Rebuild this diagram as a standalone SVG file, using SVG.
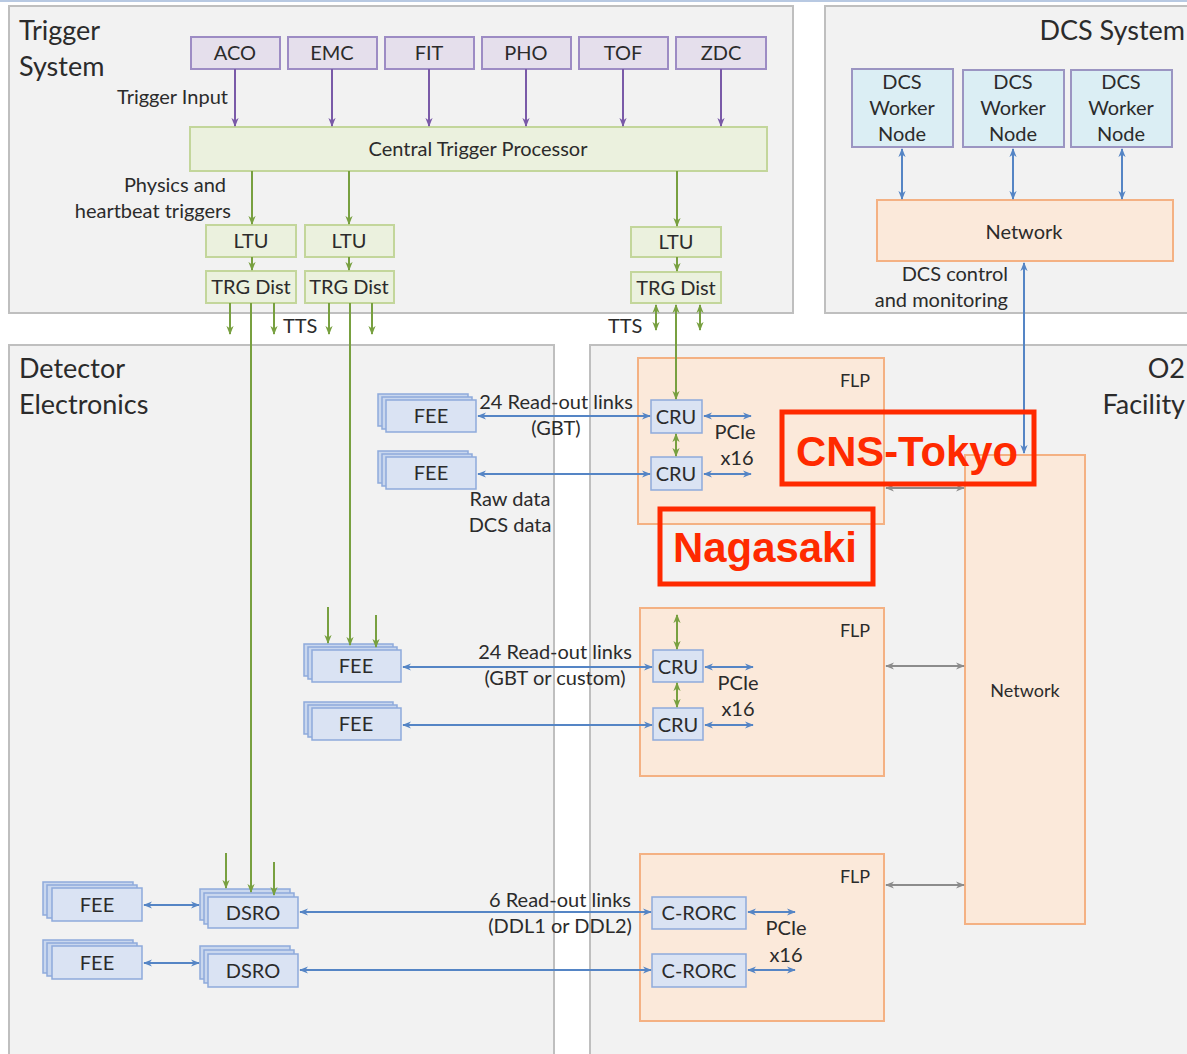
<svg xmlns="http://www.w3.org/2000/svg" width="1187" height="1054" viewBox="0 0 1187 1054">
  <style>
    text { font-family: Lato, "Open Sans", "Liberation Sans", sans-serif; fill: #2b2b2b; }
    .t { font-size: 20px; }
    .tc { font-size: 20px; text-anchor: middle; }
    .te { font-size: 20px; text-anchor: end; }
    .sm { font-size: 18px; text-anchor: middle; }
    .title { font-size: 27px; }
    .panel { fill: #f2f2f2; stroke: #bfbfbf; stroke-width: 2; }
    .trgin { fill: #e5dfec; stroke: #9d8cc4; stroke-width: 2; }
    .trg { fill: #ebf1de; stroke: #c3d69b; stroke-width: 2; }
    .dcs { fill: #dbeef4; stroke: #9b95c2; stroke-width: 2; }
    .net { fill: #fbe9da; stroke: #f4b183; stroke-width: 2; }
    .blue { fill: #dae3f3; stroke: #8eaadb; stroke-width: 1.5; }
    .stk { fill: #c9d7ee; stroke: #8eaadb; stroke-width: 1.5; }
    .mark { fill: none; stroke: #ff2a00; stroke-width: 5; }
    .red { font-family: "Liberation Sans", Arial, sans-serif; font-size: 42px; font-weight: bold; fill: #ff2a00; }
    .cp { stroke: #7a5aa8; stroke-width: 2; fill: none; }
    .cg { stroke: #78a040; stroke-width: 2; fill: none; }
    .cb { stroke: #5585c5; stroke-width: 2; fill: none; }
    .cy { stroke: #8c8c8c; stroke-width: 2; fill: none; }
  </style>
  <defs>
    <marker id="ap" viewBox="0 0 10 10" refX="9" refY="5" markerWidth="9" markerHeight="9" markerUnits="userSpaceOnUse" orient="auto-start-reverse"><path d="M0,1 L10,5 L0,9 L3,5 Z" fill="#7a5aa8"/></marker>
    <marker id="ag" viewBox="0 0 10 10" refX="9" refY="5" markerWidth="9" markerHeight="9" markerUnits="userSpaceOnUse" orient="auto-start-reverse"><path d="M0,1 L10,5 L0,9 L3,5 Z" fill="#78a040"/></marker>
    <marker id="ab" viewBox="0 0 10 10" refX="9" refY="5" markerWidth="9" markerHeight="9" markerUnits="userSpaceOnUse" orient="auto-start-reverse"><path d="M0,1 L10,5 L0,9 L3,5 Z" fill="#5585c5"/></marker>
    <marker id="ay" viewBox="0 0 10 10" refX="9" refY="5" markerWidth="9" markerHeight="9" markerUnits="userSpaceOnUse" orient="auto-start-reverse"><path d="M0,1 L10,5 L0,9 L3,5 Z" fill="#8c8c8c"/></marker>
  </defs>

  <rect width="1187" height="1054" fill="#ffffff"/>
  <rect x="0" y="0" width="1187" height="2" fill="#b8c9e2"/>

  <!-- panels -->
  <g id="trigger-system">
    <rect class="panel" x="9" y="6" width="784" height="307"/>
    <text class="title" x="19" y="40">Trigger</text>
    <text class="title" x="19" y="76">System</text>
  </g>
  <g id="dcs-system">
    <rect class="panel" x="825" y="6" width="380" height="307"/>
    <text class="title" x="1185" y="40" text-anchor="end">DCS System</text>
  </g>
  <g id="detector-electronics">
    <rect class="panel" x="9" y="345" width="545" height="720"/>
    <text class="title" x="19" y="378">Detector</text>
    <text class="title" x="19" y="414">Electronics</text>
  </g>
  <g id="o2-facility">
    <rect class="panel" x="590" y="345" width="615" height="720"/>
    <text class="title" x="1185" y="378" text-anchor="end">O2</text>
    <text class="title" x="1185" y="414" text-anchor="end">Facility</text>
  </g>

  <!-- trigger inputs -->
  <g id="aco"><rect class="trgin" x="191" y="37" width="89" height="32"/><text class="tc" x="235" y="60">ACO</text></g>
  <g id="emc"><rect class="trgin" x="288" y="37" width="89" height="32"/><text class="tc" x="332" y="60">EMC</text></g>
  <g id="fit"><rect class="trgin" x="385" y="37" width="89" height="32"/><text class="tc" x="429" y="60">FIT</text></g>
  <g id="pho"><rect class="trgin" x="482" y="37" width="89" height="32"/><text class="tc" x="526" y="60">PHO</text></g>
  <g id="tof"><rect class="trgin" x="579" y="37" width="89" height="32"/><text class="tc" x="623" y="60">TOF</text></g>
  <g id="zdc"><rect class="trgin" x="676" y="37" width="90" height="32"/><text class="tc" x="721" y="60">ZDC</text></g>

  <g id="ctp"><rect class="trg" x="190" y="127" width="577" height="44"/><text class="tc" x="478" y="156">Central Trigger Processor</text></g>

  <g id="ltu-1"><rect class="trg" x="206" y="225" width="90" height="32"/><text class="tc" x="251" y="248">LTU</text></g>
  <g id="ltu-2"><rect class="trg" x="305" y="225" width="89" height="32"/><text class="tc" x="349" y="248">LTU</text></g>
  <g id="ltu-3"><rect class="trg" x="631" y="227" width="90" height="30"/><text class="tc" x="676" y="249">LTU</text></g>
  <g id="trg-dist-1"><rect class="trg" x="206" y="271" width="90" height="32"/><text class="tc" x="251" y="294">TRG Dist</text></g>
  <g id="trg-dist-2"><rect class="trg" x="305" y="271" width="89" height="32"/><text class="tc" x="349" y="294">TRG Dist</text></g>
  <g id="trg-dist-3"><rect class="trg" x="631" y="272" width="90" height="31"/><text class="tc" x="676" y="295">TRG Dist</text></g>

  <!-- DCS system nodes -->
  <g id="dcs-worker-1"><rect class="dcs" x="852" y="69" width="101" height="78"/><text class="tc" x="902" y="89">DCS</text><text class="tc" x="902" y="115">Worker</text><text class="tc" x="902" y="141">Node</text></g>
  <g id="dcs-worker-2"><rect class="dcs" x="963" y="70" width="101" height="77"/><text class="tc" x="1013" y="89">DCS</text><text class="tc" x="1013" y="115">Worker</text><text class="tc" x="1013" y="141">Node</text></g>
  <g id="dcs-worker-3"><rect class="dcs" x="1071" y="70" width="101" height="77"/><text class="tc" x="1121" y="89">DCS</text><text class="tc" x="1121" y="115">Worker</text><text class="tc" x="1121" y="141">Node</text></g>
  <g id="dcs-network"><rect class="net" x="877" y="200" width="296" height="61"/><text class="tc" x="1024" y="239">Network</text></g>

  <!-- O2 facility -->
  <g id="flp-1"><rect class="net" x="638" y="358" width="246" height="166"/><text class="sm" x="855" y="387">FLP</text></g>
  <g id="flp-2"><rect class="net" x="640" y="608" width="244" height="168"/><text class="sm" x="855" y="637">FLP</text></g>
  <g id="flp-3"><rect class="net" x="640" y="854" width="244" height="167"/><text class="sm" x="855" y="883">FLP</text></g>
  <g id="o2-network"><rect class="net" x="965" y="455" width="120" height="469"/><text class="sm" x="1025" y="697">Network</text></g>

  <g id="cru-1"><rect class="blue" x="651" y="400" width="51" height="33"/><text class="tc" x="676" y="424">CRU</text></g>
  <g id="cru-2"><rect class="blue" x="651" y="457" width="51" height="33"/><text class="tc" x="676" y="481">CRU</text></g>
  <g id="cru-3"><rect class="blue" x="653" y="650" width="50" height="32"/><text class="tc" x="678" y="674">CRU</text></g>
  <g id="cru-4"><rect class="blue" x="653" y="708" width="50" height="32"/><text class="tc" x="678" y="732">CRU</text></g>
  <g id="c-rorc-1"><rect class="blue" x="652" y="897" width="94" height="32"/><text class="tc" x="699" y="920">C-RORC</text></g>
  <g id="c-rorc-2"><rect class="blue" x="652" y="954" width="94" height="33"/><text class="tc" x="699" y="978">C-RORC</text></g>

  <!-- front-end electronics, drawn as stacks of three cards -->
  <g id="fee-1"><rect class="stk" x="378" y="394" width="90" height="32"/><rect class="stk" x="382" y="397" width="90" height="32"/><rect class="blue" x="386" y="400" width="90" height="32"/><text class="tc" x="431" y="423">FEE</text></g>
  <g id="fee-2"><rect class="stk" x="378" y="451" width="90" height="32"/><rect class="stk" x="382" y="454" width="90" height="32"/><rect class="blue" x="386" y="457" width="90" height="32"/><text class="tc" x="431" y="480">FEE</text></g>
  <g id="fee-3"><rect class="stk" x="304" y="644" width="89" height="32"/><rect class="stk" x="308" y="647" width="89" height="32"/><rect class="blue" x="312" y="650" width="89" height="32"/><text class="tc" x="356" y="673">FEE</text></g>
  <g id="fee-4"><rect class="stk" x="304" y="702" width="89" height="32"/><rect class="stk" x="308" y="705" width="89" height="32"/><rect class="blue" x="312" y="708" width="89" height="32"/><text class="tc" x="356" y="731">FEE</text></g>
  <g id="fee-5"><rect class="stk" x="43" y="882" width="90" height="33"/><rect class="stk" x="47" y="885" width="90" height="33"/><rect class="blue" x="52" y="888" width="90" height="33"/><text class="tc" x="97" y="912">FEE</text></g>
  <g id="fee-6"><rect class="stk" x="43" y="940" width="90" height="33"/><rect class="stk" x="47" y="943" width="90" height="33"/><rect class="blue" x="52" y="946" width="90" height="33"/><text class="tc" x="97" y="970">FEE</text></g>
  <g id="dsro-1"><rect class="stk" x="200" y="889" width="90" height="31"/><rect class="stk" x="204" y="893" width="90" height="31"/><rect class="blue" x="208" y="897" width="90" height="31"/><text class="tc" x="253" y="920">DSRO</text></g>
  <g id="dsro-2"><rect class="stk" x="200" y="946" width="90" height="33"/><rect class="stk" x="204" y="950" width="90" height="33"/><rect class="blue" x="208" y="954" width="90" height="33"/><text class="tc" x="253" y="978">DSRO</text></g>

  <!-- connectors -->
  <g id="connectors">
    <!-- trigger inputs to CTP -->
    <line class="cp" x1="235" y1="69" x2="235" y2="126" marker-end="url(#ap)"/>
    <line class="cp" x1="332" y1="69" x2="332" y2="126" marker-end="url(#ap)"/>
    <line class="cp" x1="429" y1="69" x2="429" y2="126" marker-end="url(#ap)"/>
    <line class="cp" x1="526" y1="69" x2="526" y2="126" marker-end="url(#ap)"/>
    <line class="cp" x1="623" y1="69" x2="623" y2="126" marker-end="url(#ap)"/>
    <line class="cp" x1="721" y1="69" x2="721" y2="126" marker-end="url(#ap)"/>

    <!-- CTP to LTUs and TRG distribution -->
    <line class="cg" x1="252" y1="171" x2="252" y2="224" marker-end="url(#ag)"/>
    <line class="cg" x1="349" y1="171" x2="349" y2="224" marker-end="url(#ag)"/>
    <line class="cg" x1="677" y1="171" x2="677" y2="226" marker-end="url(#ag)"/>
    <line class="cg" x1="252" y1="257" x2="252" y2="270" marker-end="url(#ag)"/>
    <line class="cg" x1="349" y1="257" x2="349" y2="270" marker-end="url(#ag)"/>
    <line class="cg" x1="677" y1="257" x2="677" y2="271" marker-end="url(#ag)"/>

    <line class="cg" x1="230" y1="303" x2="230" y2="334" marker-end="url(#ag)"/>
    <line class="cg" x1="274" y1="303" x2="274" y2="334" marker-end="url(#ag)"/>
    <line class="cg" x1="329" y1="303" x2="329" y2="334" marker-end="url(#ag)"/>
    <line class="cg" x1="372" y1="303" x2="372" y2="334" marker-end="url(#ag)"/>
    <line class="cg" x1="656" y1="305" x2="656" y2="330" marker-start="url(#ag)" marker-end="url(#ag)"/>
    <line class="cg" x1="700" y1="305" x2="700" y2="330" marker-start="url(#ag)" marker-end="url(#ag)"/>

    <line class="cg" x1="251" y1="303" x2="251" y2="892" marker-end="url(#ag)"/>
    <line class="cg" x1="350" y1="303" x2="350" y2="645" marker-end="url(#ag)"/>
    <line class="cg" x1="328" y1="607" x2="328" y2="643" marker-end="url(#ag)"/>
    <line class="cg" x1="376" y1="615" x2="376" y2="647" marker-end="url(#ag)"/>
    <line class="cg" x1="226" y1="853" x2="226" y2="888" marker-end="url(#ag)"/>
    <line class="cg" x1="274" y1="862" x2="274" y2="895" marker-end="url(#ag)"/>

    <line class="cg" x1="676" y1="305" x2="676" y2="399" marker-start="url(#ag)" marker-end="url(#ag)"/>
    <line class="cg" x1="676" y1="434" x2="676" y2="456" marker-start="url(#ag)" marker-end="url(#ag)"/>
    <line class="cg" x1="677" y1="615" x2="677" y2="649" marker-start="url(#ag)" marker-end="url(#ag)"/>
    <line class="cg" x1="677" y1="683" x2="677" y2="707" marker-start="url(#ag)" marker-end="url(#ag)"/>

    <!-- DCS links -->
    <line class="cb" x1="902" y1="149" x2="902" y2="199" marker-start="url(#ab)" marker-end="url(#ab)"/>
    <line class="cb" x1="1013" y1="149" x2="1013" y2="199" marker-start="url(#ab)" marker-end="url(#ab)"/>
    <line class="cb" x1="1122" y1="149" x2="1122" y2="199" marker-start="url(#ab)" marker-end="url(#ab)"/>
    <line class="cb" x1="1024" y1="263" x2="1024" y2="453" marker-start="url(#ab)" marker-end="url(#ab)"/>

    <!-- read-out links -->
    <line class="cb" x1="478" y1="416" x2="650" y2="416" marker-start="url(#ab)" marker-end="url(#ab)"/>
    <line class="cb" x1="478" y1="474" x2="650" y2="474" marker-start="url(#ab)" marker-end="url(#ab)"/>
    <line class="cb" x1="704" y1="416" x2="751" y2="416" marker-start="url(#ab)" marker-end="url(#ab)"/>
    <line class="cb" x1="704" y1="474" x2="751" y2="474" marker-start="url(#ab)" marker-end="url(#ab)"/>

    <line class="cb" x1="403" y1="667" x2="652" y2="667" marker-start="url(#ab)" marker-end="url(#ab)"/>
    <line class="cb" x1="403" y1="725" x2="652" y2="725" marker-start="url(#ab)" marker-end="url(#ab)"/>
    <line class="cb" x1="705" y1="667" x2="753" y2="667" marker-start="url(#ab)" marker-end="url(#ab)"/>
    <line class="cb" x1="705" y1="725" x2="753" y2="725" marker-start="url(#ab)" marker-end="url(#ab)"/>

    <line class="cb" x1="144" y1="905" x2="199" y2="905" marker-start="url(#ab)" marker-end="url(#ab)"/>
    <line class="cb" x1="144" y1="963" x2="199" y2="963" marker-start="url(#ab)" marker-end="url(#ab)"/>
    <line class="cb" x1="300" y1="912" x2="651" y2="912" marker-start="url(#ab)" marker-end="url(#ab)"/>
    <line class="cb" x1="300" y1="970" x2="651" y2="970" marker-start="url(#ab)" marker-end="url(#ab)"/>
    <line class="cb" x1="748" y1="912" x2="795" y2="912" marker-start="url(#ab)" marker-end="url(#ab)"/>
    <line class="cb" x1="748" y1="970" x2="795" y2="970" marker-start="url(#ab)" marker-end="url(#ab)"/>

    <!-- FLP to network -->
    <line class="cy" x1="886" y1="488" x2="964" y2="488" marker-start="url(#ay)" marker-end="url(#ay)"/>
    <line class="cy" x1="886" y1="666" x2="964" y2="666" marker-start="url(#ay)" marker-end="url(#ay)"/>
    <line class="cy" x1="886" y1="885" x2="964" y2="885" marker-start="url(#ay)" marker-end="url(#ay)"/>
  </g>

  <!-- connector labels -->
  <g id="labels">
    <text class="te" x="228" y="104">Trigger Input</text>
    <text class="te" x="226" y="192">Physics and</text>
    <text class="te" x="231" y="218">heartbeat triggers</text>
    <text class="t" x="283" y="333">TTS</text>
    <text class="t" x="608" y="333">TTS</text>
    <text class="te" x="1008" y="281">DCS control</text>
    <text class="te" x="1008" y="307">and monitoring</text>

    <text class="tc" x="556" y="409">24 Read-out links</text>
    <text class="tc" x="556" y="435">(GBT)</text>
    <text class="tc" x="510" y="506">Raw data</text>
    <text class="tc" x="510" y="532">DCS data</text>
    <text class="tc" x="735" y="439">PCIe</text>
    <text class="tc" x="737" y="465">x16</text>

    <text class="tc" x="555" y="659">24 Read-out links</text>
    <text class="tc" x="555" y="685">(GBT or custom)</text>
    <text class="tc" x="738" y="690">PCIe</text>
    <text class="tc" x="738" y="716">x16</text>

    <text class="tc" x="560" y="907">6 Read-out links</text>
    <text class="tc" x="560" y="933">(DDL1 or DDL2)</text>
    <text class="tc" x="786" y="935">PCIe</text>
    <text class="tc" x="786" y="962">x16</text>
  </g>

  <!-- highlighted groups -->
  <g id="cns-tokyo">
    <rect class="mark" x="782" y="412" width="252" height="72"/>
    <text class="red" x="796" y="466" textLength="222" lengthAdjust="spacingAndGlyphs">CNS-Tokyo</text>
  </g>
  <g id="nagasaki">
    <rect class="mark" x="660" y="509" width="213" height="75"/>
    <text class="red" x="673" y="562" textLength="184" lengthAdjust="spacingAndGlyphs">Nagasaki</text>
  </g>
</svg>
